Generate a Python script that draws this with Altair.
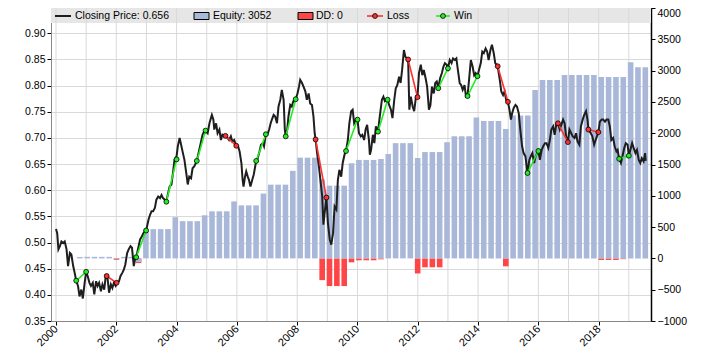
import altair as alt
import pandas as pd

# ---------------- data ----------------
price_years = [
    2000.00, 2000.04, 2000.08, 2000.13, 2000.18, 2000.24, 2000.29, 2000.35, 2000.40, 2000.46,
    2000.51, 2000.57, 2000.62, 2000.67, 2000.73, 2000.78, 2000.84, 2000.89, 2000.95, 2001.00,
    2001.05, 2001.11, 2001.16, 2001.22, 2001.27, 2001.33, 2001.38, 2001.43, 2001.49, 2001.54,
    2001.60, 2001.65, 2001.71, 2001.76, 2001.82, 2001.87, 2001.92, 2001.98, 2002.03, 2002.09,
    2002.14, 2002.20, 2002.25, 2002.30, 2002.36, 2002.41, 2002.47, 2002.52, 2002.58, 2002.63,
    2002.68, 2002.74, 2002.79, 2002.85, 2002.90, 2002.99, 2003.07, 2003.12, 2003.17, 2003.22,
    2003.28, 2003.33, 2003.39, 2003.45, 2003.50, 2003.55, 2003.61, 2003.66, 2003.72, 2003.77,
    2003.83, 2003.88, 2003.93, 2004.00, 2004.04, 2004.10, 2004.15, 2004.21, 2004.26, 2004.32,
    2004.37, 2004.42, 2004.48, 2004.53, 2004.59, 2004.67, 2004.75, 2004.80, 2004.86, 2004.91,
    2004.96, 2005.03, 2005.09, 2005.14, 2005.17, 2005.22, 2005.25, 2005.31, 2005.36, 2005.42,
    2005.47, 2005.52, 2005.58, 2005.63, 2005.69, 2005.74, 2005.80, 2005.85, 2005.91, 2005.98,
    2006.04, 2006.09, 2006.15, 2006.19, 2006.22, 2006.27, 2006.31, 2006.36, 2006.40, 2006.45,
    2006.51, 2006.56, 2006.64, 2006.69, 2006.75, 2006.80, 2006.86, 2006.90, 2006.96, 2007.01,
    2007.07, 2007.12, 2007.16, 2007.22, 2007.27, 2007.33, 2007.38, 2007.44, 2007.49, 2007.55,
    2007.59, 2007.62, 2007.67, 2007.71, 2007.77, 2007.82, 2007.87, 2007.95, 2008.01, 2008.06,
    2008.10, 2008.16, 2008.21, 2008.27, 2008.32, 2008.38, 2008.43, 2008.49, 2008.54, 2008.58,
    2008.61, 2008.66, 2008.72, 2008.77, 2008.83, 2008.87, 2008.91, 2008.97, 2009.02, 2009.08,
    2009.13, 2009.19, 2009.24, 2009.30, 2009.35, 2009.40, 2009.46, 2009.51, 2009.57, 2009.62,
    2009.68, 2009.73, 2009.79, 2009.84, 2009.89, 2009.95, 2010.00, 2010.05, 2010.11, 2010.16,
    2010.22, 2010.27, 2010.32, 2010.38, 2010.41, 2010.45, 2010.51, 2010.56, 2010.61, 2010.68,
    2010.74, 2010.81, 2010.86, 2010.91, 2011.00, 2011.05, 2011.11, 2011.16, 2011.22, 2011.27,
    2011.32, 2011.38, 2011.43, 2011.48, 2011.54, 2011.59, 2011.68, 2011.72, 2011.77, 2011.83,
    2011.88, 2011.94, 2011.99, 2012.04, 2012.10, 2012.15, 2012.20, 2012.26, 2012.31, 2012.37,
    2012.42, 2012.47, 2012.53, 2012.58, 2012.63, 2012.68, 2012.74, 2012.80, 2012.85, 2012.90,
    2012.96, 2013.00, 2013.06, 2013.12, 2013.17, 2013.23, 2013.28, 2013.33, 2013.39, 2013.44,
    2013.49, 2013.55, 2013.60, 2013.65, 2013.71, 2013.76, 2013.82, 2013.87, 2013.92, 2013.98,
    2014.03, 2014.09, 2014.14, 2014.19, 2014.25, 2014.30, 2014.35, 2014.41, 2014.46, 2014.52,
    2014.57, 2014.65, 2014.72, 2014.77, 2014.83, 2014.88, 2014.93, 2014.99, 2015.04, 2015.09,
    2015.13, 2015.18, 2015.24, 2015.29, 2015.35, 2015.40, 2015.46, 2015.51, 2015.57, 2015.64,
    2015.70, 2015.75, 2015.80, 2015.86, 2015.91, 2016.00, 2016.05, 2016.11, 2016.16, 2016.22,
    2016.27, 2016.33, 2016.38, 2016.43, 2016.49, 2016.54, 2016.60, 2016.65, 2016.71, 2016.76,
    2016.82, 2016.87, 2016.92, 2016.98, 2017.03, 2017.09, 2017.14, 2017.20, 2017.25, 2017.30,
    2017.36, 2017.41, 2017.47, 2017.52, 2017.58, 2017.63, 2017.66, 2017.74, 2017.79, 2017.85,
    2017.90, 2017.99, 2018.04, 2018.10, 2018.15, 2018.21, 2018.26, 2018.32, 2018.37, 2018.42,
    2018.48, 2018.53, 2018.59, 2018.63, 2018.68, 2018.74, 2018.79, 2018.85, 2018.90, 2018.96,
    2019.00, 2019.05, 2019.11, 2019.16, 2019.22, 2019.27, 2019.33, 2019.38, 2019.43, 2019.49,
    2019.54, 2019.56,
]
price_vals = [
    0.526, 0.518, 0.487, 0.493, 0.502, 0.499, 0.502, 0.487, 0.455, 0.480,
    0.477, 0.455, 0.442, 0.427, 0.417, 0.397, 0.410, 0.393, 0.423, 0.444,
    0.436, 0.423, 0.417, 0.423, 0.401, 0.426, 0.417, 0.423, 0.407, 0.420,
    0.410, 0.436, 0.432, 0.404, 0.420, 0.413, 0.423, 0.417, 0.423, 0.426,
    0.436, 0.442, 0.448, 0.458, 0.480, 0.487, 0.493, 0.490, 0.455, 0.471,
    0.477, 0.493, 0.506, 0.512, 0.518, 0.523, 0.544, 0.553, 0.560, 0.560,
    0.566, 0.582, 0.588, 0.585, 0.591, 0.585, 0.582, 0.578, 0.595, 0.607,
    0.611, 0.633, 0.658, 0.665, 0.684, 0.700, 0.687, 0.671, 0.658, 0.633,
    0.611, 0.626, 0.623, 0.642, 0.646, 0.656, 0.677, 0.690, 0.706, 0.712,
    0.714, 0.709, 0.728, 0.738, 0.744, 0.735, 0.716, 0.728, 0.709, 0.716,
    0.696, 0.706, 0.703, 0.705, 0.700, 0.696, 0.703, 0.693, 0.696, 0.685,
    0.684, 0.674, 0.652, 0.620, 0.607, 0.626, 0.636, 0.626, 0.620, 0.607,
    0.620, 0.630, 0.656, 0.661, 0.674, 0.687, 0.690, 0.684, 0.707, 0.706,
    0.716, 0.728, 0.735, 0.744, 0.741, 0.728, 0.760, 0.773, 0.792, 0.773,
    0.716, 0.703, 0.716, 0.741, 0.763, 0.760, 0.770, 0.774, 0.785, 0.798,
    0.811, 0.805, 0.798, 0.789, 0.773, 0.785, 0.766, 0.763, 0.741, 0.709,
    0.697, 0.671, 0.646, 0.620, 0.588, 0.534, 0.556, 0.586, 0.537, 0.506,
    0.496, 0.518, 0.569, 0.563, 0.620, 0.639, 0.626, 0.652, 0.668, 0.675,
    0.696, 0.728, 0.751, 0.754, 0.728, 0.735, 0.735, 0.709, 0.703, 0.706,
    0.696, 0.716, 0.725, 0.696, 0.668, 0.677, 0.706, 0.690, 0.722, 0.712,
    0.741, 0.773, 0.779, 0.770, 0.773, 0.763, 0.754, 0.738, 0.773, 0.795,
    0.801, 0.817, 0.805, 0.830, 0.868, 0.855, 0.850, 0.754, 0.779, 0.760,
    0.751, 0.779, 0.778, 0.824, 0.840, 0.820, 0.830, 0.814, 0.798, 0.754,
    0.763, 0.798, 0.785, 0.805, 0.808, 0.795, 0.814, 0.824, 0.836, 0.843,
    0.840, 0.833, 0.849, 0.843, 0.852, 0.849, 0.852, 0.830, 0.805, 0.801,
    0.792, 0.801, 0.779, 0.780, 0.817, 0.849, 0.836, 0.820, 0.824, 0.818,
    0.830, 0.843, 0.865, 0.862, 0.871, 0.865, 0.849, 0.868, 0.878, 0.862,
    0.843, 0.837, 0.811, 0.789, 0.782, 0.789, 0.773, 0.769, 0.754, 0.735,
    0.747, 0.757, 0.763, 0.760, 0.747, 0.716, 0.684, 0.671, 0.665, 0.633,
    0.658, 0.665, 0.671, 0.652, 0.665, 0.675, 0.658, 0.677, 0.684, 0.690,
    0.690, 0.681, 0.696, 0.716, 0.722, 0.706, 0.728, 0.728, 0.716, 0.725,
    0.735, 0.728, 0.703, 0.692, 0.716, 0.709, 0.703, 0.700, 0.709, 0.693,
    0.687, 0.722, 0.735, 0.744, 0.751, 0.735, 0.716, 0.709, 0.703, 0.687,
    0.696, 0.711, 0.731, 0.735, 0.735, 0.731, 0.735, 0.735, 0.722, 0.696,
    0.700, 0.684, 0.674, 0.677, 0.660, 0.652, 0.665, 0.681, 0.690, 0.687,
    0.666, 0.677, 0.690, 0.681, 0.671, 0.677, 0.658, 0.652, 0.661, 0.655,
    0.671, 0.656,
]

# quarterly equity / drawdown bars (first bar ~2000.79, spacing ~0.2436 yr)
bar_dates = [round(2000.79 + 0.2436 * i, 3) for i in range(78)]
equity_vals = [
    22, 25, 25, 25, 25, -12, 25, 25, -60, 468,
    468, 468, 468, 658, 595, 595, 595, 689, 752, 752,
    752, 910, 847, 847, 847, 1036, 1178, 1178, 1178, 1399,
    1609, 1609, 1609, 1262, 1162, 1162, 1162, 1520, 1573, 1573,
    1573, 1588, 1667, 1841, 1841, 1841, 1604, 1699, 1699, 1699,
    1856, 1951, 1951, 1951, 2251, 2193, 2193, 2193, 2066, 2282,
    2282, 2282, 2692, 2850, 2850, 2850, 2929, 2929, 2929, 2929,
    2929, 2897, 2897, 2897, 2897, 3134, 3055, 3052,
]
dd_vals = [
    0, 0, 0, 0, 0, -22, 0, 0, -75, 0,
    0, 0, 0, 0, 0, 0, 0, 0, 0, 0,
    0, 0, 0, 0, 0, 0, 0, 0, 0, 0,
    0, 0, 0, -347, -442, -442, -442, -63, -30, -30,
    -30, -15, 0, 0, 0, 0, -241, -142, -142, -142,
    0, 0, 0, 0, 0, 0, 0, 0, -126, 0,
    0, 0, 0, 0, 0, 0, 0, 0, 0, 0,
    0, -25, -25, -25, -12, 0, 0, 0,
]

trade_type = ["Win", "Loss", "Win", "Win", "Win", "Loss", "Win", "Win", "Loss", "Win",
              "Win", "Loss", "Win", "Win", "Loss", "Win", "Loss", "Loss", "Win"]
entry_year = [2000.67, 2001.68, 2002.66, 2003.66, 2004.67, 2005.62, 2006.64, 2007.62, 2008.61, 2009.62,
              2010.68, 2011.68, 2012.68, 2013.65, 2014.65, 2015.64, 2016.65, 2017.66, 2018.68]
entry_price = [0.427, 0.436, 0.472, 0.578, 0.656, 0.704, 0.656, 0.703, 0.697, 0.675,
               0.712, 0.850, 0.795, 0.780, 0.837, 0.633, 0.728, 0.716, 0.660]
exit_year = [2001.00, 2002.01, 2002.99, 2004.00, 2004.96, 2005.98, 2006.96, 2007.95, 2008.97, 2010.00,
             2011.00, 2011.99, 2013.00, 2013.98, 2014.99, 2016.00, 2016.98, 2017.99, 2019.00]
exit_price = [0.444, 0.423, 0.523, 0.659, 0.714, 0.685, 0.707, 0.774, 0.586, 0.735,
              0.773, 0.778, 0.833, 0.818, 0.769, 0.675, 0.692, 0.711, 0.666]

legend_labels = ["Closing Price: 0.656", "Equity: 3052", "DD: 0", "Loss", "Win"]
grid_years = list(range(2000, 2020))
label_years = list(range(2000, 2019, 2))
left_ticks = [0.35, 0.40, 0.45, 0.50, 0.55, 0.60, 0.65, 0.70, 0.75, 0.80, 0.85, 0.90]
right_ticks = [-1000, -500, 0, 500, 1000, 1500, 2000, 2500, 3000, 3500, 4000]

# ---------------- style ----------------
W, H = 600, 313
FONT = "Liberation Sans"
FS = 10.5
C_PRICE = "#1e1e1e"
C_EQ = "#a9b8d8"
C_DD = "#ff4646"
C_LOSS = "#ff3030"
C_WIN = "#22ee22"
C_GRID = "#d9d9d9"

x_scale = alt.Scale(domain=[2000, 2019.57], nice=False, zero=False)
yl_scale = alt.Scale(domain=[0.35, 0.9484], nice=False, zero=False)
yr_scale = alt.Scale(domain=[-1000, 4000], nice=False)

x_axis = alt.Axis(values=label_years, format="d", labelAngle=315, labelAlign="right",
                  labelBaseline="middle", grid=False, title=None, tickSize=4,
                  tickColor="#000", domainColor="#888", labelFontSize=11, labelFont=FONT,
                  labelColor="#000", labelPadding=2, labelOverlap=False)
yl_axis = alt.Axis(values=left_ticks, format=".2f", orient="left", grid=True, gridColor=C_GRID,
                   title=None, tickSize=4, tickColor="#000", domainColor="#888",
                   labelFontSize=FS, labelFont=FONT, labelColor="#000", labelPadding=2)
yr_axis = alt.Axis(values=right_ticks, format="d", orient="right", grid=False, title=None,
                   tickSize=4, tickColor="#000", domainColor="#000", domainWidth=1.5,
                   labelFontSize=FS, labelFont=FONT, labelColor="#000", labelPadding=2,
                   labelBaseline={"condition": {"test": "datum.value >= 4000", "value": "top"},
                                  "value": "middle"})


def X(field):
    return alt.X(f"{field}:Q", scale=x_scale, axis=x_axis)


price_df = pd.DataFrame({"year": price_years, "price": price_vals})
bar_df = pd.DataFrame({"date": bar_dates, "equity": equity_vals, "dd": dd_vals})
trades_df = pd.DataFrame({"type": trade_type, "entry": entry_year, "entry_price": entry_price,
                          "exit": exit_year, "exit_price": exit_price})
pts_df = pd.DataFrame({
    "type": trade_type + trade_type,
    "year": entry_year + exit_year,
    "price": entry_price + exit_price,
})
one = pd.DataFrame({"k": [0]})

trade_color = alt.Scale(domain=["Loss", "Win"], range=[C_LOSS, C_WIN])

# ---------------- background + bars (right axis) ----------------
band = alt.Chart(one).mark_rect(color="#e6e6e6").encode(
    x=alt.value(0), x2=alt.value(W), y=alt.value(0), y2=alt.value(15))
vgrid = alt.Chart(pd.DataFrame({"year": grid_years})).mark_rule(
    color=C_GRID, strokeWidth=1).encode(x=X("year"))
dd_bars = alt.Chart(bar_df).mark_bar(size=5.6, color=C_DD).encode(
    x=X("date"), y=alt.Y("dd:Q", scale=yr_scale, axis=yr_axis))
eq_bars = alt.Chart(bar_df).mark_bar(size=5.6, color=C_EQ).encode(
    x=X("date"), y=alt.Y("equity:Q", scale=yr_scale, axis=yr_axis))
bars_group = alt.layer(band, vgrid, dd_bars, eq_bars)

# ---------------- price (left axis) ----------------
line = alt.Chart(price_df).mark_line(color=C_PRICE, strokeWidth=2).encode(
    x=X("year"), y=alt.Y("price:Q", scale=yl_scale, axis=yl_axis))
trade_lines = alt.Chart(trades_df).mark_rule(strokeWidth=1.6).encode(
    x=X("entry"), x2="exit",
    y=alt.Y("entry_price:Q", scale=yl_scale, axis=yl_axis), y2="exit_price",
    color=alt.Color("type:N", scale=trade_color, legend=None))
trade_pts = alt.Chart(pts_df).mark_circle(size=24, stroke="#000", strokeWidth=0.8, opacity=1).encode(
    x=X("year"), y=alt.Y("price:Q", scale=yl_scale, axis=yl_axis),
    fill=alt.Fill("type:N", scale=trade_color, legend=None))

# ---------------- legend (drawn by hand) ----------------
LY = 8


def leg_text(label, px):
    return alt.Chart(pd.DataFrame({"label": [label]})).mark_text(
        align="left", baseline="middle", font=FONT, fontSize=FS, color="#000").encode(
        x=alt.value(px), y=alt.value(LY), text="label:N")


def leg_line(x0, x1, color, sw):
    return alt.Chart(one).mark_rule(color=color, strokeWidth=sw).encode(
        x=alt.value(x0), x2=alt.value(x1), y=alt.value(LY))


def leg_box(x0, x1, color):
    return alt.Chart(one).mark_rect(color=color, stroke="#000", strokeWidth=1).encode(
        x=alt.value(x0), x2=alt.value(x1), y=alt.value(LY - 3.5), y2=alt.value(LY + 3.5))


def leg_dot(px, color):
    return alt.Chart(one).mark_circle(size=24, color=color, stroke="#000", strokeWidth=0.8, opacity=1).encode(
        x=alt.value(px), y=alt.value(LY))


legend = [
    leg_line(4, 20, C_PRICE, 2), leg_text(legend_labels[0], 24),
    leg_box(143, 158, C_EQ), leg_text(legend_labels[1], 162),
    leg_box(247, 262, C_DD), leg_text(legend_labels[2], 265),
    leg_line(316, 332, C_LOSS, 1.6), leg_dot(324, C_LOSS), leg_text(legend_labels[3], 336),
    leg_line(385, 399, C_WIN, 1.6), leg_dot(392, C_WIN), leg_text(legend_labels[4], 403),
]

price_group = alt.layer(line, trade_lines, trade_pts, *legend)

chart = alt.layer(bars_group, price_group).resolve_scale(y="independent").properties(
    width=W, height=H,
    autosize=alt.AutoSizeParams(type="none"),
    padding={"left": 43, "top": 0, "right": 40, "bottom": 32},
).configure_view(stroke="#888", strokeWidth=1)

chart.save("out.html", embed_options={"renderer": "svg", "actions": False})
